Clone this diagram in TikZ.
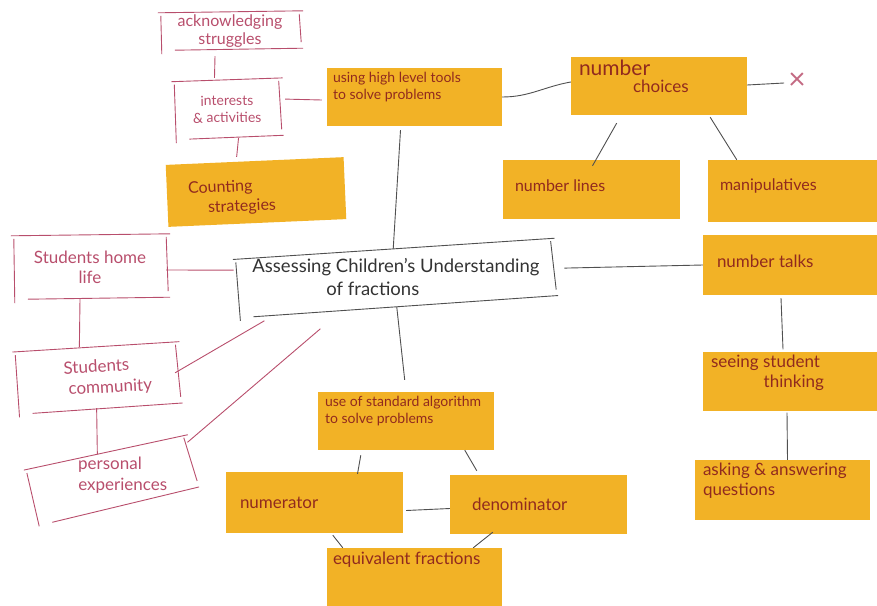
\documentclass[tikz,border=0pt]{standalone}
\usepackage{fontspec}
\setmainfont{Lato}
\usetikzlibrary{calc}
\definecolor{sticky}{RGB}{242,178,38}
\definecolor{ink}{RGB}{145,42,30}
\definecolor{pinkink}{RGB}{184,78,108}
\definecolor{pencil}{RGB}{80,80,80}
\tikzset{
  note/.style={fill=sticky, inner sep=0pt, minimum width=176, minimum height=59},
  notetext/.style={text=ink, inner sep=0pt, anchor=north west, align=left,
    font=\fontsize{16}{18}\selectfont},
  pinkbox/.style={inner sep=0pt, text=pinkink, align=center,
    font=\fontsize{16}{19}\selectfont},
  pinkline/.style={draw=pinkink, line width=0.9pt},
  pencilline/.style={draw=pencil, line width=0.9pt},
}
% open, hand-drawn frame around a node: four strokes that overshoot or stop short
\newcommand\sketchframe[2]{%
  \draw[#2] ($(#1.north west)+(-3,1)$) -- ($(#1.north east)+(4,-1)$);
  \draw[#2] ($(#1.north east)+(0,2)$) -- ($(#1.south east)+(2,-8)$);
  \draw[#2] ($(#1.south west)+(14,0)$) -- ($(#1.south east)+(4,-2)$);
  \draw[#2] ($(#1.north west)+(0,4)$) -- ($(#1.south west)+(1,4)$);
}
\begin{document}
\begin{tikzpicture}[x=1pt,y=-1pt]
\useasboundingbox (0,0) rectangle (877,605);

% ---------- sticky notes ----------
\node[note, minimum width=175, minimum height=58] (ut) at (414.5,97) {};
\node[notetext, font=\fontsize{14}{17}\selectfont] at ($(ut.north west)+(6,4)$) {using high level tools\\to solve problems};

\node[note, minimum width=176, minimum height=58] (nc) at (659,86) {};
\node[notetext, font=\fontsize{21}{22}\selectfont] at ($(nc.north west)+(8,3)$) {number};
\node[notetext, font=\fontsize{17}{19}\selectfont] at ($(nc.north west)+(62,23)$) {choices};

\node[note, minimum width=177] (nl) at (591.5,189.5) {};
\node[notetext, anchor=west] at ($(nl.west)+(12,-4)$) {number lines};

\node[note, minimum width=176, minimum height=62] (mp) at (796,191) {};
\node[notetext, anchor=west] at ($(mp.west)+(12,-5)$) {manipulatives};

\node[note, minimum width=178, minimum height=62, rotate=2.5] (cs) at (256,192) {};
\node[notetext, rotate=2.5, font=\fontsize{16}{20}\selectfont] at ($(cs.north west)+(22,17)$) {Counting\\\hspace*{1.2em}strategies};

\node[note, minimum width=176, minimum height=60] (nt) at (791,265) {};
\node[notetext, anchor=west, font=\fontsize{17}{19}\selectfont] at ($(nt.west)+(14,-4)$) {number talks};

\node[note, minimum width=176, minimum height=59] (ss) at (791,381) {};
\node[notetext, font=\fontsize{17}{20}\selectfont] at ($(ss.north west)+(8,3)$) {seeing student\\\hspace*{3.1em}thinking};

\node[note, minimum width=175, minimum height=60] (aa) at (782.5,490) {};
\node[notetext, font=\fontsize{17}{20}\selectfont] at ($(aa.north west)+(8,3)$) {asking \& answering\\questions};

\node[note, minimum width=176, minimum height=58] (sa) at (406,421) {};
\node[notetext, font=\fontsize{14}{17}\selectfont] at ($(sa.north west)+(7,4)$) {use of standard algorithm\\to solve problems};

\node[note, minimum width=177, minimum height=61] (nu) at (314.5,502.5) {};
\node[notetext, anchor=west, font=\fontsize{17}{19}\selectfont] at ($(nu.west)+(14,0)$) {numerator};

\node[note, minimum width=177, minimum height=59] (de) at (538.5,504.5) {};
\node[notetext, anchor=west, font=\fontsize{17}{19}\selectfont] at ($(de.west)+(22,0)$) {denominator};

\node[note, minimum width=175, minimum height=64] (ef) at (414.5,580) {};
\node[notetext, font=\fontsize{17}{19}\selectfont] at ($(ef.north west)+(6,4)$) {equivalent fractions};

% ---------- central topic: tilted frame, level text ----------
\node[inner sep=0pt, minimum width=315, minimum height=58, rotate=3.5] (main) at (395,278) {};
\sketchframe{main}{pencilline}
\node[inner sep=0pt, align=left, text=black!80, font=\fontsize{18.5}{23}\selectfont] (maintext) at (396,277)
  {Assessing Children's Understanding\\\hspace*{4em}of fractions};

% ---------- pink sketched boxes ----------
\node[pinkbox, minimum width=138, minimum height=38, font=\fontsize{16}{18}\selectfont] (ack) at (230,31) {acknowledging\\struggles};
\node[pinkbox, minimum width=104, minimum height=58, rotate=1, font=\fontsize{14}{17}\selectfont] (int) at (227,109) {interests\\\& activities};
\node[pinkbox, minimum width=152, minimum height=64, font=\fontsize{17}{20}\selectfont] (home) at (90,267) {Students home\\life};
\node[pinkbox, minimum width=160, minimum height=62, rotate=3, font=\fontsize{17}{21}\selectfont] (comm) at (97,378) {Students\\\hspace*{1.5em}community};
\node[inner sep=0pt, minimum width=160, minimum height=54, rotate=12] (pers) at (111,479) {};
\node[pinkbox, font=\fontsize{17}{21}\selectfont] (perstext) at (110,475) {personal\\\hspace*{1.5em}experiences};
\foreach \b in {ack,int,home,comm,pers} { \sketchframe{\b}{pinkline} }

\node[text=pinkink!85, font=\fontsize{30}{30}\selectfont, inner sep=0pt] (x) at (797,81) {\texttimes};

% ---------- pencil connectors ----------
\draw[pencilline] (ut.east) to[out=0, in=190] ($(nc.west)+(0,-4)$);
\draw[pencilline] ($(nc.east)+(0,-1)$) -- ($(x.west)+(-4,2)$);
\draw[pencilline] ($(nc.south west)!0.26!(nc.south east)+(0,8)$) -- ($(nl.north)+(1,6)$);
\draw[pencilline] ($(nc.south west)!0.79!(nc.south east)+(0,2)$) -- ($(mp.north west)+(29,0)$);
\draw[pencilline] ($(ut.south)+(-14,4)$) -- (main.north);
\draw[pencilline, shorten <=12pt] (main.east) -- (nt.west);
\draw[pencilline, shorten >=12pt] (main.south) -- (sa.north);
\draw[pencilline] ($(nt.south)+(-10,3)$) -- ($(ss.north)+(-8,-2)$);
\draw[pencilline] ($(ss.south)+(-4,2)$) -- ($(aa.north)+(5,0)$);
\draw[pencilline] ($(sa.south west)+(43,5)$) -- ($(nu.north)+(43,2)$);
\draw[pencilline] ($(sa.south west)+(147,0)$) -- ($(de.north west)+(27,-4)$);
\draw[pencilline] ($(nu.east)+(3,8)$) -- ($(de.west)+(0,4)$);
\draw[pencilline] ($(nu.south west)+(107,2)$) -- ($(ef.north west)+(16,0)$);
\draw[pencilline] ($(de.south west)+(43,-2)$) -- ($(ef.north east)+(-29,0)$);

% ---------- pink connectors ----------
\draw[pinkline] ($(ack.south)+(-15,6)$) -- ($(int.north)+(-12,-2)$);
\draw[pinkline] ($(int.east)+(6,-9)$) -- ($(ut.west)+(-5,3)$);
\draw[pinkline] ($(int.south)+(11,0)$) -- ($(cs.north)+(-18,-4)$);
\draw[pinkline] ($(home.east)+(0,3)$) -- ($(main.north west)!0.2!(main.south west)+(-3,0)$);
\draw[pinkline] ($(home.south)+(-10,0)$) -- ($(comm.north)+(-16,0)$);
\draw[pinkline] ($(comm.east)+(-2,-1)$) -- ($(main.south west)+(25,4)$);
\draw[pinkline] ($(comm.south)+(-2,-1)$) -- ($(pers.north)+(-8,2)$);
\draw[pinkline] ($(pers.east)+(-2,-20)$) -- ($(main.south west)+(81,12)$);
\end{tikzpicture}
\end{document}
